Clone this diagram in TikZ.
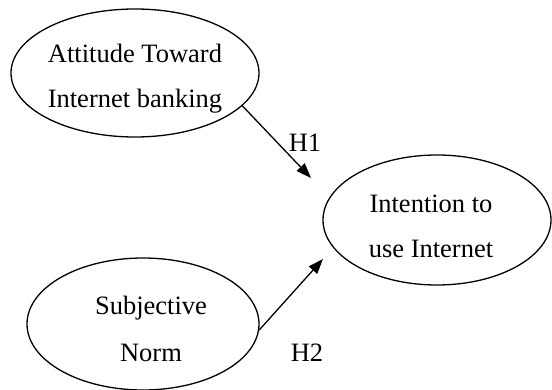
\documentclass[tikz,border=0pt]{standalone}
\usepackage{fontspec}
\setmainfont{Liberation Serif}
\usetikzlibrary{shapes.geometric,arrows.meta}
\begin{document}
\begin{tikzpicture}[x=1pt,y=-1pt,
  oval/.style={draw,ellipse,line width=1.3pt,inner sep=0pt},
  lbl/.style={anchor=base,inner sep=0pt,font=\fontsize{26.5}{30}\selectfont},
  conn/.style={line width=1.3pt,-{Triangle[length=15pt,width=11pt]}}]
\useasboundingbox (0,0) rectangle (552,390);
\node[oval,minimum width=248pt,minimum height=128pt] (e1) at (135,73) {};
\node[oval,minimum width=228pt,minimum height=130pt] (e2) at (437,220) {};
\node[oval,minimum width=232pt,minimum height=132pt] (e3) at (143,324) {};
\node[lbl] (t1a) at (135,63) {Attitude Toward};
\node[lbl] (t1b) at (135,108) {Internet banking};
\node[lbl] (t2a) at (431,213) {Intention to};
\node[lbl] (t2b) at (431,258) {use Internet};
\node[lbl] (t3a) at (151,315) {Subjective};
\node[lbl] (t3b) at (151,362) {Norm};
\node[lbl] (h1) at (305,152) {H1};
\node[lbl] (h2) at (307,362) {H2};
\coordinate (p1) at (311,178);
\coordinate (p2) at (323,259);
\draw[conn] (e1.-17) -- (p1);
\draw[conn] (e3.-3) -- (p2);
\end{tikzpicture}
\end{document}
